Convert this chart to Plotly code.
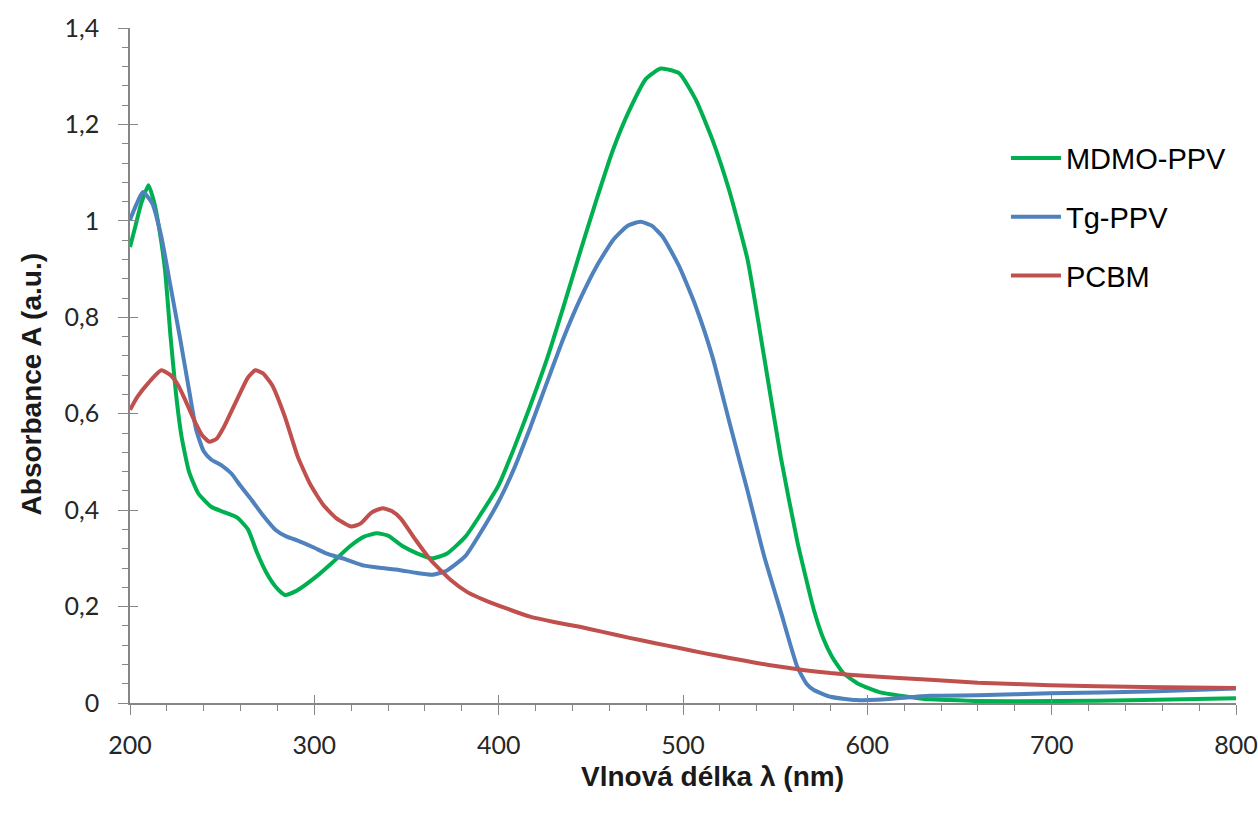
import plotly.graph_objects as go

# Wavelength grids (nm) and absorbance values for each sample
wl_mdmo = [200, 203, 206, 210, 213, 216, 219, 222, 225, 228, 232, 237, 244, 251, 258,
           264, 269, 274, 279, 284, 290, 301, 310, 319, 327, 334, 340, 348, 356, 364,
           372, 382, 390, 400, 408, 417, 426, 435, 444, 453, 462, 471, 480, 488, 498,
           507, 516, 525, 535, 544, 553, 562, 566, 571, 576, 581, 587, 595, 607, 618,
           630, 645, 660, 700, 750, 800]
abs_mdmo = [0.946, 0.99, 1.035, 1.074, 1.04, 0.98, 0.898, 0.76, 0.64, 0.552, 0.48, 0.435,
            0.407, 0.396, 0.385, 0.36, 0.311, 0.27, 0.241, 0.224, 0.232, 0.262, 0.292,
            0.324, 0.345, 0.352, 0.347, 0.325, 0.31, 0.30, 0.31, 0.345, 0.39, 0.452,
            0.525, 0.615, 0.711, 0.82, 0.933, 1.043, 1.147, 1.23, 1.295, 1.316, 1.306,
            1.251, 1.168, 1.064, 0.92, 0.718, 0.511, 0.335, 0.27, 0.193, 0.135, 0.095,
            0.062, 0.04, 0.022, 0.015, 0.009, 0.006, 0.004, 0.004, 0.006, 0.01]

wl_tg = [200, 203, 207, 212, 217, 222, 227, 232, 236, 240, 244, 250, 255, 260, 266,
         272, 279, 285, 291, 300, 306, 317, 327, 337, 346, 355, 364, 372, 382, 390,
         400, 408, 417, 426, 435, 444, 453, 462, 470, 477, 483, 489, 498, 507, 516,
         525, 535, 544, 553, 562, 567, 571, 580, 594, 610, 634, 660, 699, 753, 800]
abs_tg = [1.002, 1.03, 1.06, 1.037, 0.967, 0.864, 0.76, 0.65, 0.565, 0.522, 0.505,
          0.492, 0.476, 0.45, 0.421, 0.39, 0.359, 0.345, 0.337, 0.322, 0.311, 0.298,
          0.285, 0.28, 0.276, 0.27, 0.266, 0.275, 0.305, 0.352, 0.418, 0.483, 0.57,
          0.663, 0.755, 0.836, 0.905, 0.96, 0.99, 0.998, 0.99, 0.967, 0.905, 0.822,
          0.718, 0.585, 0.44, 0.305, 0.19, 0.075, 0.04, 0.027, 0.013, 0.006, 0.008,
          0.015, 0.016, 0.02, 0.024, 0.03]

wl_pcbm = [200, 204, 210, 217, 222, 226, 230, 235, 239, 243, 247, 251, 255, 259, 264,
           268, 272, 277, 284, 291, 298, 305, 312, 320, 325, 331, 337, 342, 347, 355,
           363, 374, 383, 392, 405, 417, 430, 444, 457, 471, 485, 498, 512, 526, 540,
           553, 566, 580, 600, 634, 660, 699, 750, 800]
abs_pcbm = [0.608, 0.635, 0.664, 0.69, 0.68, 0.66, 0.628, 0.585, 0.556, 0.542, 0.548,
            0.573, 0.605, 0.637, 0.675, 0.69, 0.684, 0.66, 0.594, 0.511, 0.452, 0.41,
            0.383, 0.366, 0.372, 0.395, 0.404, 0.398, 0.382, 0.338, 0.297, 0.255, 0.23,
            0.214, 0.195, 0.179, 0.168, 0.158, 0.147, 0.135, 0.124, 0.114, 0.103, 0.093,
            0.083, 0.075, 0.068, 0.062, 0.056, 0.048, 0.042, 0.037, 0.033, 0.031]

series = [
    ("MDMO-PPV", wl_mdmo, abs_mdmo, "#00B050"),
    ("Tg-PPV", wl_tg, abs_tg, "#4F81BD"),
    ("PCBM", wl_pcbm, abs_pcbm, "#C0504D"),
]

x_range = [200, 800]
y_range = [0, 1.4]
axis_grey = "#868686"
tick_font = dict(family="Lato", size=25, color="#262626")
title_font = dict(family="Liberation Sans", size=28, color="#1a1a1a")

fig = go.Figure()
for name, wl, a, color in series:
    fig.add_trace(go.Scatter(
        x=wl, y=a, name=name, mode="lines", legendgroup=name,
        line=dict(color=color, width=4, shape="spline", smoothing=0.5),
    ))

fig.update_layout(
    width=1258, height=814,
    margin=dict(l=130, r=22, t=28, b=111, autoexpand=False),
    paper_bgcolor="white", plot_bgcolor="white",
    separators=", ",
    showlegend=True,
    legend=dict(
        x=0.792, y=0.845, xanchor="left", yanchor="top",
        font=dict(family="Liberation Sans", size=29, color="#000000"),
        itemwidth=50, tracegroupgap=18, bgcolor="rgba(0,0,0,0)",
    ),
    xaxis=dict(
        range=x_range, dtick=100, tick0=200, showgrid=False, zeroline=False,
        showline=True, linecolor=axis_grey, linewidth=1.5,
        ticks="outside", ticklen=10, tickwidth=1.3, tickcolor=axis_grey,
        minor=dict(dtick=20, ticks="outside", ticklen=6, tickwidth=1.3,
                   tickcolor=axis_grey, showgrid=False),
        tickfont=tick_font, ticklabelstandoff=9,
    ),
    yaxis=dict(
        range=y_range, dtick=0.2, tick0=0, showgrid=False, zeroline=False,
        showline=True, linecolor=axis_grey, linewidth=1.5,
        ticks="outside", ticklen=10, tickwidth=1.3, tickcolor=axis_grey,
        minor=dict(dtick=0.04, ticks="outside", ticklen=6, tickwidth=1.3,
                   tickcolor=axis_grey, showgrid=False),
        tickfont=tick_font, ticklabelstandoff=14,
    ),
    # companion axes carrying the inner half of the major tick marks
    xaxis2=dict(
        range=x_range, dtick=100, tick0=200, overlaying="x", anchor="y",
        side="bottom", showgrid=False, zeroline=False, showline=False,
        ticks="inside", ticklen=8, tickwidth=1.3, tickcolor=axis_grey,
        showticklabels=False,
    ),
    yaxis2=dict(
        range=y_range, dtick=0.2, tick0=0, overlaying="y", anchor="x",
        side="left", showgrid=False, zeroline=False, showline=False,
        ticks="inside", ticklen=8, tickwidth=1.3, tickcolor=axis_grey,
        showticklabels=False,
    ),
    annotations=[
        dict(text="<b>Vlnová délka λ (nm)</b>", xref="paper", yref="paper",
             x=0.527, y=-0.1096, xanchor="center", yanchor="middle",
             showarrow=False, font=title_font),
        dict(text="<b>Absorbance A (a.u.)</b>", xref="paper", yref="paper",
             x=-0.0895, y=0.472, xanchor="center", yanchor="middle", textangle=-90,
             showarrow=False, font=title_font),
    ],
)

# invisible trace so the companion axes are drawn
fig.add_trace(go.Scatter(x=x_range, y=y_range, xaxis="x2", yaxis="y2",
                         mode="lines", line=dict(width=0), showlegend=False,
                         hoverinfo="skip"))

fig.write_html("out.html")
